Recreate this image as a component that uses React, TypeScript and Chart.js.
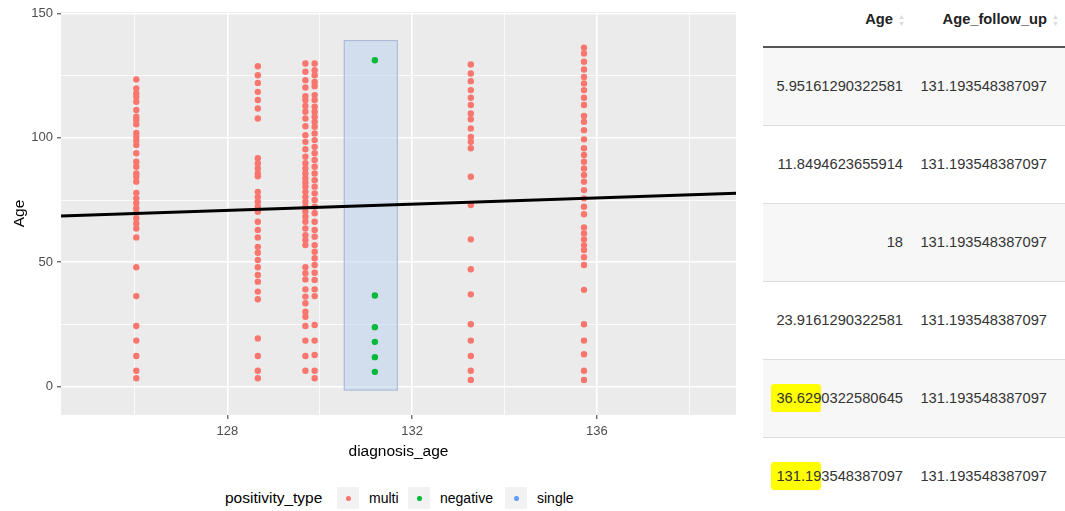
import React, { useEffect, useRef } from "react";
import { Chart, registerables } from "chart.js";

Chart.register(...registerables);

const FONT = "'Liberation Sans', Arial, Helvetica, sans-serif";

// ---- axes ----
const xRange = [124.4, 139.01];
const xGridValues = [126, 128, 130, 132, 134, 136, 138];
const xTickLabels = ["128", "132", "136"];
const yRange = [-11.4, 150.6];
const yGridValues = [0, 25, 50, 75, 100, 125, 150];
const yTickLabels = ["0", "50", "100", "150"];

// ---- multi (red) points: one column per diagnosis_age ----
const multiColumnX = [126.03, 128.66, 129.69, 129.89, 133.27, 135.72];
const multiAge126 = [123.5, 119.9, 117.9, 116.5, 114.5, 111.2, 108.5, 107.2, 105.5, 102, 100.4, 98.8, 97.1, 93.8, 90.4, 88.4, 85.7, 84.4, 82.4, 77.9, 75.7, 73.7, 71.7, 69.9, 67.7, 65.6, 63.6, 60.0, 48, 36.4, 24.4, 18.5, 12.3, 6.4, 3.4];
const multiAge128 = [128.8, 125.2, 122.1, 118.5, 115.2, 111.8, 107.8, 91.8, 89.7, 87.7, 85.7, 84.6, 78.3, 76.3, 74.3, 72.3, 70.3, 66.3, 63, 60, 56.2, 53.8, 50.9, 48, 44.9, 42.2, 38.2, 35.1, 19.4, 12.3, 6.4, 3.4];
const multiAge129a = [129.9, 126.6, 123.2, 120.3, 116.8, 115.2, 112.8, 110.5, 107.8, 104.7, 101.1, 98.4, 95.4, 92.4, 89.8, 87.7, 85.7, 83.7, 82, 80.4, 78.3, 76.3, 74.3, 72.3, 70.3, 68.3, 66.3, 63.6, 60.9, 58.9, 56.9, 48, 45.6, 43.1, 39.1, 36.2, 33.5, 30.1, 28.1, 24.4, 18.5, 12.3, 6.4];
const multiAge129b = [129.9, 127.2, 125.2, 122.5, 120.8, 117.2, 115.2, 112.5, 110.5, 108.5, 106.5, 104.5, 101.8, 99.1, 96.4, 93.8, 91.1, 88.4, 85.7, 83, 80.4, 77.7, 75, 72.3, 69.7, 66.3, 63, 60.3, 56.9, 54.2, 51.6, 48.9, 45.8, 42.9, 39.1, 36.4, 24.8, 18.5, 12.7, 6.4, 3.4];
const multiAge133 = [129.5, 125.9, 122.8, 119.2, 116.1, 113.2, 109.8, 107.5, 103.8, 100.4, 98.4, 95.8, 84.4, 73, 59.2, 47.2, 37.1, 25.1, 18.5, 12.3, 6.4, 2.7];
const multiAge135 = [136.2, 133.9, 130.6, 127.5, 124.5, 121.9, 119.2, 116.1, 113.2, 108.8, 106.5, 103.1, 99.4, 95.8, 93.1, 90.4, 87.7, 85.1, 82.4, 79, 75.7, 72.3, 69.3, 64, 61.6, 59.2, 56.9, 54.9, 52, 48.9, 38.9, 25.1, 18.5, 13, 6.4, 2.7];

// ---- negative (green) points ----
const negativeX = 131.193548387097;
const negativeAge = [5.95161290322581, 11.8494623655914, 18, 23.9161290322581, 36.6290322580645, 131.193548387097];

// ---- fitted line and highlight box ----
const fitX = [124.4, 139.01];
const fitAge = [68.6, 77.7];
const boxX = [130.52, 131.69];
const boxAge = [-1.6, 139.3];

// ---- legend ----
const legendTitle = "positivity_type";
const legendLabels = ["multi", "negative", "single"];
const legendColors = ["#F8766D", "#00BA38", "#619CFF"];

// ---- table ----
const tableHeaders = ["Age", "Age_follow_up"];
const tableAge = ["5.95161290322581", "11.8494623655914", "18", "23.9161290322581", "36.6290322580645", "131.193548387097"];
const tableFollowUp = ["131.193548387097", "131.193548387097", "131.193548387097", "131.193548387097", "131.193548387097", "131.193548387097"];
const tableHighlight = ["", "", "", "", "36.629", "131.19"];

function ScatterChart() {
  const ref = useRef<HTMLCanvasElement | null>(null);
  useEffect(() => {
    if (!ref.current) return;
    const multiCols = [multiAge126, multiAge128, multiAge129a, multiAge129b, multiAge133, multiAge135];
    const multiPoints = multiCols.flatMap((ages, i) => ages.map((a) => ({ x: multiColumnX[i], y: a })));
    const negPoints = negativeAge.map((a) => ({ x: negativeX, y: a }));
    const fitPoints = fitX.map((x, i) => ({ x, y: fitAge[i] }));

    const isMajorX = (v: number) => xTickLabels.includes(String(v));
    const isMajorY = (v: number) => yTickLabels.includes(String(v));

    const panelBg = {
      id: "panelBg",
      beforeDraw(chart: any) {
        const { ctx, chartArea: a } = chart;
        ctx.save();
        ctx.fillStyle = "#EBEBEB";
        ctx.fillRect(a.left, a.top, a.right - a.left, a.bottom - a.top);
        ctx.restore();
      },
    };
    const boxPlugin = {
      id: "boxPlugin",
      beforeDatasetsDraw(chart: any) {
        const { ctx } = chart;
        const xs = chart.scales.x;
        const ys = chart.scales.y;
        const l = xs.getPixelForValue(boxX[0]);
        const r = xs.getPixelForValue(boxX[1]);
        const t = ys.getPixelForValue(boxAge[1]);
        const b = ys.getPixelForValue(boxAge[0]);
        ctx.save();
        ctx.fillStyle = "rgba(190,212,240,0.55)";
        ctx.fillRect(l, t, r - l, b - t);
        ctx.strokeStyle = "rgba(150,168,196,0.75)";
        ctx.lineWidth = 1;
        ctx.strokeRect(l + 0.5, t + 0.5, r - l - 1, b - t - 1);
        ctx.restore();
      },
    };

    const chart = new Chart(ref.current, {
      type: "scatter",
      data: {
        datasets: [
          {
            label: "fit",
            type: "line",
            data: fitPoints,
            borderColor: "#000000",
            borderWidth: 3,
            pointRadius: 0,
            showLine: true,
            fill: false,
            order: 0,
          } as any,
          {
            label: "multi",
            data: multiPoints,
            backgroundColor: legendColors[0],
            pointRadius: 3.2,
            borderWidth: 0,
            order: 1,
          },
          {
            label: "negative",
            data: negPoints,
            backgroundColor: legendColors[1],
            pointRadius: 3.2,
            borderWidth: 0,
            order: 1,
          },
        ],
      },
      options: {
        responsive: false,
        animation: false,
        events: [],
        layout: { padding: { top: 12, right: 3, left: 0, bottom: 0 } },
        plugins: { legend: { display: false }, tooltip: { enabled: false } },
        scales: {
          x: {
            type: "linear",
            min: xRange[0],
            max: xRange[1],
            afterBuildTicks: (s: any) => {
              s.ticks = xGridValues.map((v) => ({ value: v }));
            },
            afterFit: (s: any) => {
              s.height = 50;
            },
            border: { display: false },
            grid: {
              color: "#FFFFFF",
              lineWidth: (c: any) => (isMajorX(c.tick?.value) ? 1.6 : 0.8),
              drawTicks: true,
              tickLength: 4,
              tickWidth: 1,
              tickColor: (c: any) => (isMajorX(c.tick?.value) ? "#333333" : "rgba(0,0,0,0)"),
            },
            ticks: {
              autoSkip: false,
              maxRotation: 0,
              padding: 5,
              color: "#4D4D4D",
              font: { family: FONT, size: 13 },
              callback: (v: any) => (isMajorX(Number(v)) ? String(v) : ""),
            },
            title: {
              display: true,
              text: "diagnosis_age",
              color: "#000000",
              font: { family: FONT, size: 15.5 },
              padding: { top: 0, bottom: 4 },
            },
          },
          y: {
            type: "linear",
            min: yRange[0],
            max: yRange[1],
            afterBuildTicks: (s: any) => {
              s.ticks = yGridValues.map((v) => ({ value: v }));
            },
            afterFit: (s: any) => {
              s.width = 61;
            },
            border: { display: false },
            grid: {
              color: "#FFFFFF",
              lineWidth: (c: any) => (isMajorY(c.tick?.value) ? 1.6 : 0.8),
              drawTicks: true,
              tickLength: 4,
              tickWidth: 1,
              tickColor: (c: any) => (isMajorY(c.tick?.value) ? "#333333" : "rgba(0,0,0,0)"),
            },
            ticks: {
              autoSkip: false,
              padding: 4,
              color: "#4D4D4D",
              font: { family: FONT, size: 13 },
              callback: (v: any) => (isMajorY(Number(v)) ? String(v) : ""),
            },
            title: {
              display: true,
              text: "Age",
              color: "#000000",
              font: { family: FONT, size: 15.5 },
              padding: { top: 10, bottom: 0 },
            },
          },
        },
      },
      plugins: [panelBg, boxPlugin],
    } as any);
    return () => chart.destroy();
  }, []);
  return <canvas ref={ref} width={740} height={465} style={{ position: "absolute", left: 0, top: 0, width: 740, height: 465 }} />;
}

function SortIcon() {
  return (
    <span
      style={{
        position: "absolute",
        right: 6,
        top: 13,
        display: "flex",
        flexDirection: "column",
        fontSize: 7,
        lineHeight: "7px",
        color: "#DADADA",
        fontWeight: "normal",
      }}
    >
      <span>▲</span>
      <span>▼</span>
    </span>
  );
}

function DataTable() {
  const cellBase: React.CSSProperties = {
    fontFamily: FONT,
    fontSize: 14.7,
    color: "#333333",
    textAlign: "right",
    whiteSpace: "nowrap",
    verticalAlign: "middle",
    padding: 0,
  };
  const renderAge = (s: string, i: number) => {
    const h = tableHighlight[i];
    if (h && s.startsWith(h)) {
      return (
        <>
          <span style={{ background: "#FFFF00", padding: "6px 0 6px 5px", borderRadius: 3 }}>{h}</span>
          {s.slice(h.length)}
        </>
      );
    }
    return s;
  };
  return (
    <table
      style={{
        position: "absolute",
        left: 763,
        top: 0,
        width: 302,
        borderCollapse: "collapse",
        tableLayout: "fixed",
      }}
    >
      <colgroup>
        <col style={{ width: 148 }} />
        <col style={{ width: 154 }} />
      </colgroup>
      <thead>
        <tr style={{ height: 46, borderBottom: "2px solid #555555" }}>
          {tableHeaders.map((h) => (
            <th
              key={h}
              style={{
                ...cellBase,
                position: "relative",
                fontWeight: "bold",
                color: "#222222",
                paddingRight: 18,
                verticalAlign: "top",
                paddingTop: 11,
                height: 35,
              }}
            >
              {h}
              <SortIcon />
            </th>
          ))}
        </tr>
      </thead>
      <tbody>
        {tableAge.map((a, i) => (
          <tr
            key={i}
            style={{
              height: 78,
              background: i % 2 === 0 ? "#F7F7F7" : "#FFFFFF",
              borderTop: i === 0 ? "none" : "1px solid #DDDDDD",
            }}
          >
            <td style={{ ...cellBase, paddingRight: 8 }}>{renderAge(a, i)}</td>
            <td style={{ ...cellBase, paddingRight: 18 }}>{tableFollowUp[i]}</td>
          </tr>
        ))}
      </tbody>
    </table>
  );
}

function Legend() {
  const keyLefts = [337, 408, 505];
  const textLefts = [369, 440, 537];
  return (
    <>
      <div
        style={{
          position: "absolute",
          left: 225,
          top: 498,
          transform: "translateY(-50%)",
          fontFamily: FONT,
          fontSize: 15.5,
          color: "#000",
          whiteSpace: "nowrap",
          lineHeight: 1,
        }}
      >
        {legendTitle}
      </div>
      {legendLabels.map((lab, i) => (
        <React.Fragment key={lab}>
          <div
            style={{
              position: "absolute",
              left: keyLefts[i],
              top: 487,
              width: 22,
              height: 22,
              background: "#F2F2F2",
            }}
          >
            <div
              style={{
                position: "absolute",
                left: 9,
                top: 9,
                width: 4.5,
                height: 4.5,
                borderRadius: "50%",
                background: legendColors[i],
              }}
            />
          </div>
          <div
            style={{
              position: "absolute",
              left: textLefts[i],
              top: 498,
              transform: "translateY(-50%)",
              fontFamily: FONT,
              fontSize: 14,
              color: "#000",
              whiteSpace: "nowrap",
              lineHeight: 1,
            }}
          >
            {lab}
          </div>
        </React.Fragment>
      ))}
    </>
  );
}

export default function App() {
  return (
    <div
      style={{
        position: "absolute",
        left: 0,
        top: 0,
        width: 1065,
        height: 511,
        overflow: "hidden",
        background: "#FFFFFF",
      }}
    >
      <ScatterChart />
      <Legend />
      <DataTable />
    </div>
  );
}
